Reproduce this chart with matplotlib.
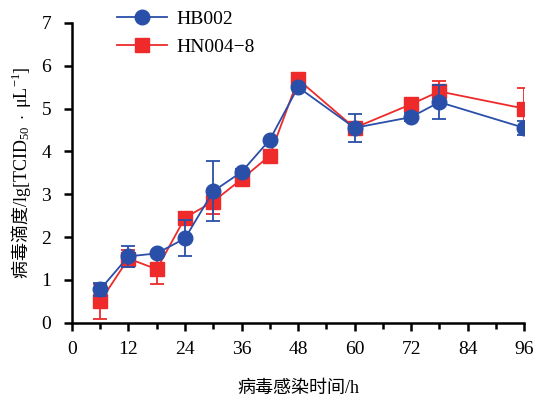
import matplotlib
matplotlib.use('Agg')
import matplotlib.pyplot as plt
from matplotlib.lines import Line2D

plt.rcParams['font.family'] = ['Liberation Serif', 'Noto Sans CJK SC']
plt.rcParams['mathtext.fontset'] = 'custom'
plt.rcParams['mathtext.rm'] = 'Liberation Serif'
plt.rcParams['mathtext.it'] = 'Liberation Serif:italic'
plt.rcParams['mathtext.sf'] = 'Noto Sans CJK SC'

HOURS = [6, 12, 18, 24, 30, 36, 42, 48, 60, 72, 78, 96]
HB002 = [0.78, 1.55, 1.62, 1.97, 3.07, 3.52, 4.27, 5.5, 4.55, 4.8, 5.15, 4.55]
HB002_ERR = [0.15, 0.25, 0.0, 0.42, 0.7, 0.08, 0.0, 0.0, 0.32, 0.1, 0.4, 0.16]
HN004 = [0.5, 1.5, 1.25, 2.45, 2.83, 3.35, 3.9, 5.68, 4.55, 5.1, 5.4, 5.0]
HN004_ERR = [0.4, 0.2, 0.35, 0.05, 0.3, 0.1, 0.0, 0.0, 0.05, 0.05, 0.25, 0.47]

BLUE = '#2a4fa8'
RED = '#ee2a2a'

fig = plt.figure(figsize=(5.37, 4.01), dpi=100)
ax = fig.add_axes([0.134, 0.195, 0.842, 0.748])

ax.errorbar(HOURS, HN004, yerr=HN004_ERR, color=RED, marker='s', markersize=9.5,
            linewidth=1.3, capsize=5, elinewidth=1.3, capthick=1.3, zorder=2)
ax.errorbar(HOURS, HB002, yerr=HB002_ERR, color=BLUE, marker='o', markersize=10.5,
            linewidth=1.3, capsize=5, elinewidth=1.3, capthick=1.3, zorder=3)

ax.set_xlim(0, 96)
ax.set_ylim(0, 7)
ax.set_xticks(range(0, 97, 12))
ax.set_xticks(range(6, 97, 12), minor=True)
ax.set_yticks(range(0, 8))
for s in ['top', 'right']:
    ax.spines[s].set_visible(False)
for s in ['left', 'bottom']:
    ax.spines[s].set_linewidth(1.8)
ax.tick_params(which='major', length=6, width=1.8, labelsize=14, direction='out')
ax.tick_params(which='minor', length=4, width=1.8)
ax.tick_params(axis='x', pad=7)
ax.tick_params(axis='y', pad=9)

ax.set_xlabel('病毒感染时间/h', fontsize=13, labelpad=16)
ax.set_ylabel(r'$\mathsf{病毒滴度}/\mathrm{lg[TCID}_{50}\ \cdot\ \mathrm{μL}^{-1}]$',
              fontsize=13, labelpad=6)

handles = [
    Line2D([], [], color=BLUE, marker='o', markersize=10.5, linewidth=1.3),
    Line2D([], [], color=RED, marker='s', markersize=9.5, linewidth=1.3),
]
ax.legend(handles, ['HB002', 'HN004\u22128'], loc='upper left',
          bbox_to_anchor=(0.06, 1.1), frameon=False, fontsize=14,
          handlelength=2.6, handletextpad=0.5, labelspacing=0.55)

fig.savefig('out.png', dpi=100)
